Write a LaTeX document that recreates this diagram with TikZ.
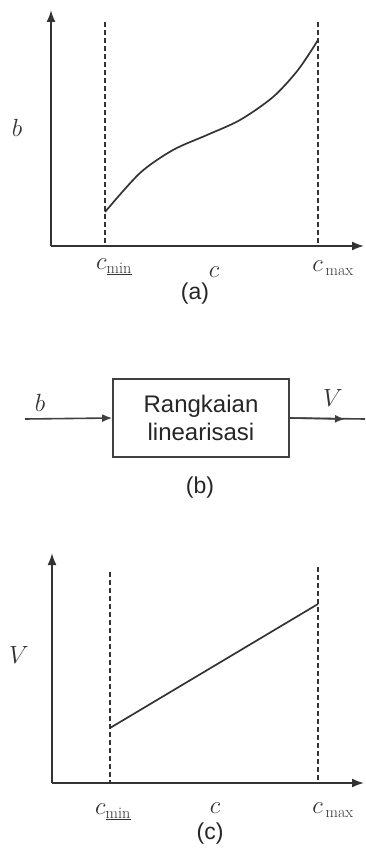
\documentclass[tikz,border=0pt]{standalone}
\usepackage{fontspec}
\setsansfont{Liberation Sans}
\usetikzlibrary{arrows.meta}

\tikzset{
  axis/.style={line width=1.9pt, draw=black!80, -{Latex[length=12pt,width=9pt]}},
  guide/.style={line width=1.6pt, draw=black!80, dash pattern=on 5pt off 3pt},
  curve/.style={line width=1.7pt, draw=black!80},
  lbl/.style={font=\fontsize{23}{27}\selectfont, text=black!80},
  panel/.style={font=\sffamily\fontsize{23}{28}\selectfont, text=black!85},
  blok/.style={draw=black!75, line width=1.6pt, minimum width=176pt, minimum height=78pt,
    align=center, font=\sffamily\fontsize{24}{28}\selectfont, text=black!85},
  sig/.style={line width=1.6pt, draw=black!75, -{Latex[length=10pt,width=8pt]}}
}

\begin{document}
\begin{tikzpicture}[x=1pt,y=-1pt]
\useasboundingbox (0,0) rectangle (365,861);

% (a) nonlinear characteristic
\coordinate (oa) at (51,246);
\draw[axis] (oa) -- (51,10);
\draw[axis] (oa) -- (364,246);
\draw[guide] (105,22) -- (105,246);
\draw[guide] (318,22) -- (318,246);
\draw[curve] plot[smooth] coordinates {(105,212) (140,173) (173,150)
  (207,135) (240,120) (273,97) (298,70) (318,40)};
\node[lbl] (ba) at (17,128) {$b$};
\node[lbl] (cmina) at (114,267) {$c_{\underline{\mathrm{min}}}$};
\node[lbl] (ca) at (214,272) {$c$};
\node[lbl] (cmaxa) at (333,268) {$c_{\,\mathrm{max}}$};
\node[panel] (capa) at (195,294) {(a)};

% (b) block
\node[blok] (lin) at (201,418) {Rangkaian\\linearisasi};
\coordinate (bin) at (25,419);
\coordinate (vtip) at (345,419);
\coordinate (vout) at (365,419);
\draw[line width=1.6pt, draw=black!75] (lin.east) -- (vout);
\draw[sig] (bin) -- (lin.west);
\draw[sig] (lin.east) -- (vtip);
\node[lbl] (bb) at (40,403) {$b$};
\node[lbl] (vb) at (333,398) {$V$};
\node[panel] (capb) at (200,488) {(b)};

% (c) linearised output
\coordinate (oc) at (52,783);
\draw[axis] (oc) -- (52,553);
\draw[axis] (oc) -- (364,783);
\draw[guide] (110,572) -- (110,783);
\draw[guide] (318,567) -- (318,783);
\draw[curve] (110,728) -- (318,604);
\node[lbl] (vc) at (19,655) {$V$};
\node[lbl] (cminc) at (113,812) {$c_{\underline{\mathrm{min}}}$};
\node[lbl] (cc) at (215,808) {$c$};
\node[lbl] (cmaxc) at (333,810) {$c_{\,\mathrm{max}}$};
\node[panel] (capc) at (210,834) {(c)};
\end{tikzpicture}
\end{document}
